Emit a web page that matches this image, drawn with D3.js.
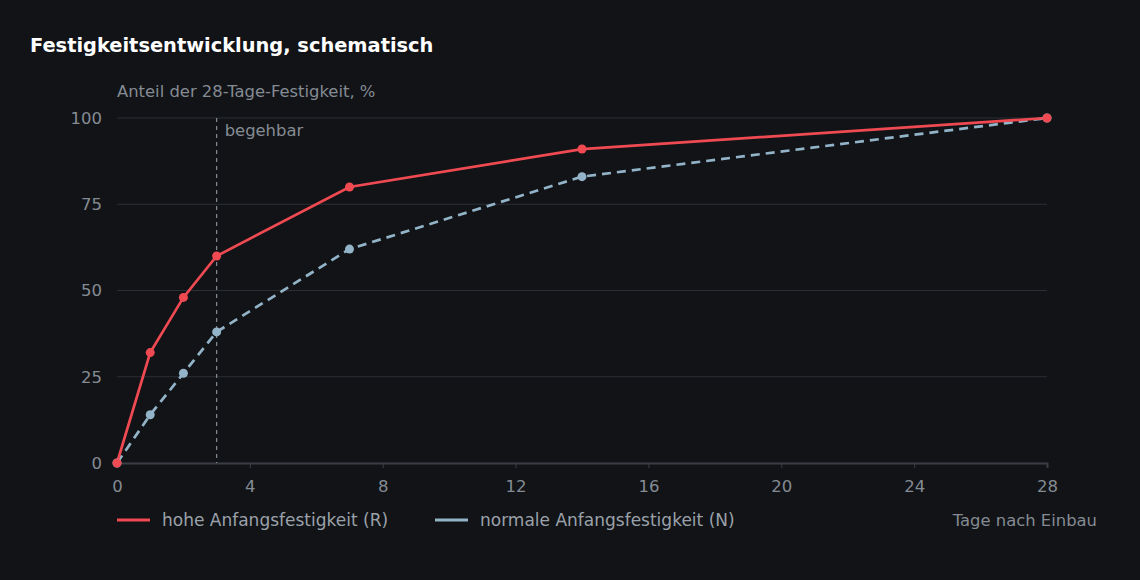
<!DOCTYPE html>
<html>
<head>
<meta charset="utf-8">
<script src="https://cdn.jsdelivr.net/npm/d3@7"></script>
<style>
  html, body { margin: 0; padding: 0; background: #111317; }
  svg { display: block; font-family: "DejaVu Sans", sans-serif; }
</style>
</head>
<body>
<svg id="chart"></svg>
<script>
const days = [0, 1, 2, 3, 7, 14, 28];
const highEarly = [0, 32, 48, 60, 80, 91, 100];
const normalEarly = [0, 14, 26, 38, 62, 83, 100];
const xTicks = [0, 4, 8, 12, 16, 20, 24, 28];
const yTicks = [0, 25, 50, 75, 100];
const walkableDay = 3;

const series = [
  { name: 'hohe Anfangsfestigkeit (R)', values: highEarly, color: '#ef4a52', dash: null },
  { name: 'normale Anfangsfestigkeit (N)', values: normalEarly, color: '#93b4c8', dash: '9,6' }
];

const width = 1140, height = 580;
const margin = { top: 118, right: 93, bottom: 117, left: 117 };

const svg = d3.select('#chart').attr('width', width).attr('height', height);
svg.append('rect').attr('width', width).attr('height', height).attr('fill', '#111317');

const x = d3.scaleLinear().domain([0, 28]).range([margin.left, width - margin.right]);
const y = d3.scaleLinear().domain([0, 100]).range([height - margin.bottom, margin.top]);

// title and axis label
svg.append('text').attr('x', 30).attr('y', 52)
  .attr('fill', '#ffffff').attr('font-size', 19.4).attr('font-weight', 'bold')
  .text('Festigkeitsentwicklung, schematisch');
svg.append('text').attr('x', margin.left).attr('y', 97)
  .attr('fill', '#858b93').attr('font-size', 16.4)
  .text('Anteil der 28-Tage-Festigkeit, %');

// grid
svg.append('g').selectAll('line').data(yTicks.filter(d => d > 0)).join('line')
  .attr('x1', x(0)).attr('x2', x(28))
  .attr('y1', d => y(d)).attr('y2', d => y(d))
  .attr('stroke', '#2b2f35').attr('stroke-width', 1);

// y axis labels
svg.append('g').selectAll('text').data(yTicks).join('text')
  .attr('x', margin.left - 15).attr('y', d => y(d)).attr('dy', '0.35em')
  .attr('text-anchor', 'end').attr('fill', '#858b93').attr('font-size', 16.5)
  .text(d => d);

// x axis
const xAxis = svg.append('g').attr('transform', `translate(0,${y(0)})`)
  .call(d3.axisBottom(x).tickValues(xTicks).tickSize(5).tickPadding(12));
xAxis.select('.domain').attr('stroke', '#3b3f45').attr('stroke-width', 2);
xAxis.selectAll('.tick line').attr('stroke', '#3b3f45');
xAxis.selectAll('.tick text').attr('fill', '#858b93').attr('font-size', 16.5)
  .attr('font-family', '"DejaVu Sans", sans-serif');

// walkable marker
svg.append('line')
  .attr('x1', x(walkableDay)).attr('x2', x(walkableDay))
  .attr('y1', y(100)).attr('y2', y(0))
  .attr('stroke', '#868b92').attr('stroke-width', 1.2).attr('stroke-dasharray', '4,4');
svg.append('text').attr('x', x(walkableDay) + 8).attr('y', y(100) + 18)
  .attr('fill', '#858b93').attr('font-size', 16.4).text('begehbar');

// lines
const line = d3.line().x((d, i) => x(days[i])).y(d => y(d));
series.slice().reverse().forEach(s => {
  svg.append('path').datum(s.values)
    .attr('fill', 'none').attr('stroke', s.color).attr('stroke-width', 2.7)
    .attr('stroke-dasharray', s.dash).attr('d', line);
});
series.slice().reverse().forEach(s => {
  svg.append('g').selectAll('circle').data(s.values).join('circle')
    .attr('cx', (d, i) => x(days[i])).attr('cy', d => y(d)).attr('r', 4.5)
    .attr('fill', s.color);
});

// legend
const legend = svg.append('g').attr('transform', 'translate(117,520)');
let lx = 0;
series.forEach((s, i) => {
  const g = legend.append('g').attr('transform', `translate(${lx},0)`);
  g.append('line').attr('x1', 0).attr('x2', 33).attr('y1', 0).attr('y2', 0)
    .attr('stroke', s.color).attr('stroke-width', 3);
  g.append('text').attr('x', 45).attr('dy', '0.35em')
    .attr('fill', '#9ba1a9').attr('font-size', 17).text(s.name);
  lx += 318;
});
svg.append('text').attr('x', 1097).attr('y', 520).attr('dy', '0.35em')
  .attr('text-anchor', 'end').attr('fill', '#858b93').attr('font-size', 16.4)
  .text('Tage nach Einbau');
</script>
</body>
</html>
